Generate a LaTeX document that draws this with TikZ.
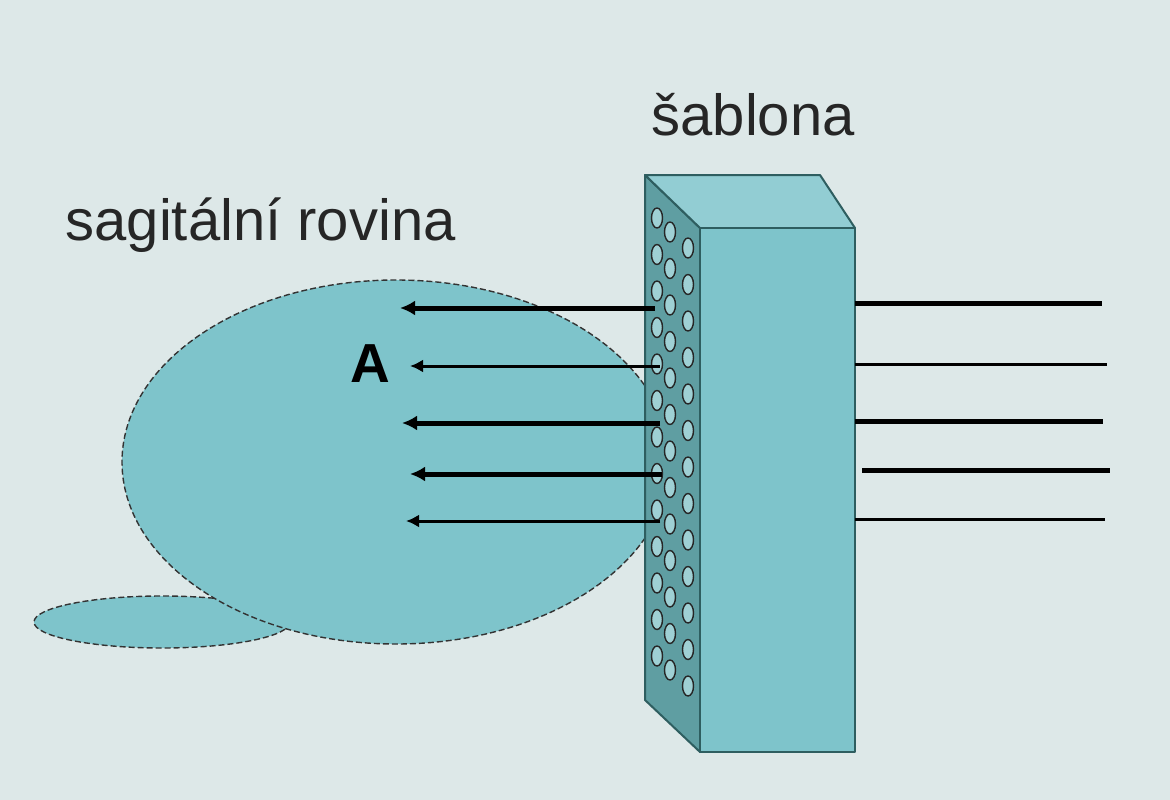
\documentclass[tikz,border=0pt]{standalone}
\usepackage{fontspec}
\setmainfont{Liberation Sans}
\begin{document}
\begin{tikzpicture}[x=1pt,y=-1pt,
  blob/.style={fill=tealc,draw=black!80,dash pattern=on 6pt off 3pt,line width=1.4pt},
  face/.style={draw=edgec,line width=2pt,line join=round},
  hole/.style={draw=black!85,line width=1.4pt,fill=holec},
  thickarr/.style={line width=5pt,-{Latex[length=15pt,width=15pt]}},
  thinarr/.style={line width=3pt,-{Latex[length=13pt,width=13pt]}},
  thickln/.style={line width=5pt},
  thinln/.style={line width=3pt},
  lbl/.style={font=\fontsize{58}{60}\selectfont,text=black!85}]
\definecolor{bgc}{HTML}{DDE8E8}
\definecolor{tealc}{HTML}{7EC4CB}
\definecolor{sidec}{HTML}{5F9EA2}
\definecolor{topc}{HTML}{92CDD3}
\definecolor{edgec}{HTML}{2E5E60}
\definecolor{holec}{HTML}{9FD0D4}
\usetikzlibrary{arrows.meta}
\fill[bgc] (0,0) rectangle (1170,800);
\useasboundingbox (0,0) rectangle (1170,800);
% head shapes
\path[blob] (162,622) ellipse [x radius=128, y radius=26];
\path[blob] (396,462) ellipse [x radius=274, y radius=182];
% labels
\node[lbl,anchor=base west] (sag) at (62,240) {sagitální rovina};
\node[lbl,anchor=base west] (sab) at (648,135) {šablona};
\node[font=\fontsize{55}{56}\selectfont\bfseries] (A) at (370,364) {A};
% block
\coordinate (tbl) at (645,175); \coordinate (tbr) at (820,175);
\coordinate (ftl) at (700,228); \coordinate (ftr) at (855,228);
\coordinate (fbl) at (700,752); \coordinate (fbr) at (855,752);
\coordinate (bbl) at (645,700);
\filldraw[face,fill=sidec] (tbl) -- (ftl) -- (fbl) -- (bbl) -- cycle;
\filldraw[face,fill=topc] (tbl) -- (tbr) -- (ftr) -- (ftl) -- cycle;
\filldraw[face,fill=tealc] (ftl) -- (ftr) -- (fbr) -- (fbl) -- cycle;
\foreach \hx/\ys in {657/218,670/232,688/248}{
  \foreach \k in {0,...,12}{
    \pgfmathsetmacro{\hy}{\ys+\k*36.5}
    \draw[hole] (\hx,\hy) ellipse [x radius=5.5, y radius=10];
  }
}
% arrows
\coordinate (s1) at (655,308); \coordinate (e1) at (400,308);
\coordinate (s2) at (660,366); \coordinate (e2) at (410,366);
\coordinate (s3) at (660,423); \coordinate (e3) at (402,423);
\coordinate (s4) at (662,474); \coordinate (e4) at (410,474);
\coordinate (s5) at (660,521); \coordinate (e5) at (406,521);
\draw[thickarr] (s1) -- (e1);
\draw[thinarr] (s2) -- (e2);
\draw[thickarr] (s3) -- (e3);
\draw[thickarr] (s4) -- (e4);
\draw[thinarr] (s5) -- (e5);
% right lines
\coordinate (r1a) at (855,303); \coordinate (r1b) at (1102,303);
\coordinate (r2a) at (855,364); \coordinate (r2b) at (1107,364);
\coordinate (r3a) at (855,421); \coordinate (r3b) at (1103,421);
\coordinate (r4a) at (862,470); \coordinate (r4b) at (1110,470);
\coordinate (r5a) at (855,519); \coordinate (r5b) at (1105,519);
\draw[thickln] (r1a) -- (r1b);
\draw[thinln] (r2a) -- (r2b);
\draw[thickln] (r3a) -- (r3b);
\draw[thickln] (r4a) -- (r4b);
\draw[thinln] (r5a) -- (r5b);
\end{tikzpicture}
\end{document}
